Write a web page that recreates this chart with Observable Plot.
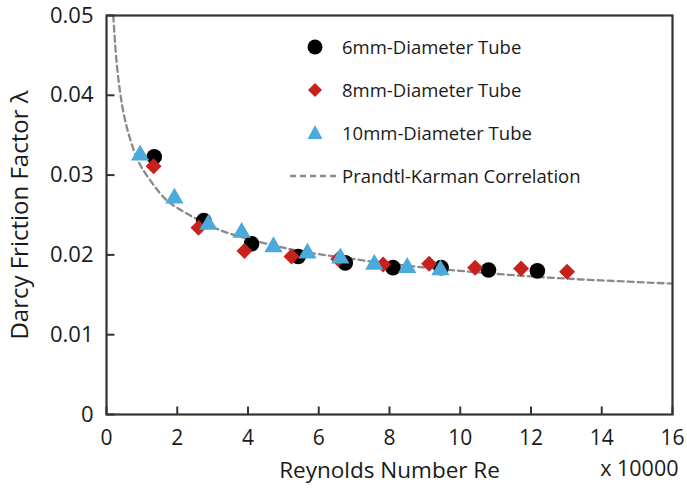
<!DOCTYPE html>
<html>
<head>
<meta charset="utf-8">
<script src="https://cdn.jsdelivr.net/npm/d3@7"></script>
<script src="https://cdn.jsdelivr.net/npm/@observablehq/plot@0.6"></script>
<style>
  html, body { margin: 0; padding: 0; background: #fff; }
  #wrap { position: relative; width: 687px; height: 489px; font-family: "Open Sans", sans-serif; }
  #legend { position: absolute; left: 290px; top: 25px; color: #1a1a1a; font-size: 18.5px; }
  #legend .row { display: flex; align-items: center; height: 43px; }
  #legend svg { width: 50px; height: 28px; margin-right: 2px; }
</style>
</head>
<body>
<div id="wrap"></div>
<script>
// Reynolds number (x 10000) and Darcy friction factor
const re6 = [1.35, 2.75, 4.1, 5.42, 6.75, 8.1, 9.46, 10.8, 12.18];
const f6  = [0.0323, 0.0243, 0.0214, 0.0198, 0.0190, 0.0184, 0.0184, 0.0181, 0.0180];
const re8 = [1.33, 2.6, 3.9, 5.23, 6.55, 7.82, 9.12, 10.42, 11.72, 13.02];
const f8  = [0.0311, 0.0234, 0.0205, 0.0198, 0.0195, 0.0188, 0.0189, 0.0184, 0.0183, 0.0179];
const re10 = [0.95, 1.92, 2.88, 3.82, 4.72, 5.68, 6.61, 7.57, 8.5, 9.44];
const f10  = [0.0325, 0.0271, 0.0238, 0.0228, 0.0210, 0.0202, 0.0196, 0.0188, 0.0184, 0.0181];
// Prandtl-Karman correlation curve, sampled points
const reCurve = [0.18, 0.2, 0.3, 0.5, 0.75, 1, 1.5, 2, 3, 4, 5, 6, 8, 10, 12, 14, 16];
const fCurve  = [0.0512, 0.0494, 0.0435, 0.0374, 0.0334, 0.0309, 0.0278, 0.0259, 0.0235, 0.0220, 0.0209, 0.0201, 0.0189, 0.0180, 0.0173, 0.0168, 0.0164];
const xTicks = [0, 2, 4, 6, 8, 10, 12, 14, 16];
const yTicks = [0, 0.01, 0.02, 0.03, 0.04, 0.05];
const seriesNames = ["6mm-Diameter Tube", "8mm-Diameter Tube", "10mm-Diameter Tube", "Prandtl-Karman Correlation"];

const s6 = re6.map((x, i) => ({x, y: f6[i]}));
const s8 = re8.map((x, i) => ({x, y: f8[i]}));
const s10 = re10.map((x, i) => ({x, y: f10[i]}));
const curve = reCurve.map((x, i) => ({x, y: fCurve[i]}));

const cBlack = "#000000", cRed = "#c8211d", cBlue = "#4aaadc", cLine = "#8a8a8a";
const tickLen = 8;
// inward tick symbols (drawn as tiny strokes)
const upTick = { draw(ctx) { ctx.moveTo(0, 0); ctx.lineTo(0, -tickLen); } };
const rightTick = { draw(ctx) { ctx.moveTo(0, 0); ctx.lineTo(tickLen, 0); } };

const chart = Plot.plot({
  width: 687, height: 489,
  marginLeft: 106, marginRight: 15, marginTop: 15, marginBottom: 75,
  style: { fontFamily: "Open Sans, sans-serif", fontSize: "21px", color: "#1a1a1a", background: "#fff" },
  x: { domain: [0, 16] },
  y: { domain: [0, 0.05] },
  marks: [
    Plot.line(curve, { x: "x", y: "y", stroke: cLine, strokeWidth: 2.3, strokeDasharray: "6,4", curve: "natural", clip: true }),
    Plot.dot(s6, { x: "x", y: "y", symbol: "circle", r: 7.8, fill: cBlack }),
    Plot.dot(s8, { x: "x", y: "y", symbol: "diamond2", r: 7.2, fill: cRed }),
    Plot.dot(s10, { x: "x", y: "y", symbol: "triangle", r: 6.8, fill: cBlue }),
    Plot.dot(xTicks, { x: d => d, y: () => 0, symbol: upTick, stroke: "#333", strokeWidth: 2, fill: "none" }),
    Plot.dot(yTicks, { x: () => 0, y: d => d, symbol: rightTick, stroke: "#333", strokeWidth: 2, fill: "none" }),
    Plot.frame({ stroke: "#333", strokeWidth: 2.2 }),
    Plot.axisX({ ticks: xTicks, tickSize: 0, tickPadding: 16, tickFormat: d => String(d), fontSize: 21,
      label: null }),
    Plot.axisX({ ticks: [], tickSize: 0, fontSize: 22.5,
      label: "Reynolds Number Re", labelAnchor: "center", labelArrow: "none", labelOffset: 63 }),
    Plot.axisY({ ticks: yTicks, tickSize: 0, tickPadding: 13, tickFormat: d => d === 0 ? "0" : d3.format(".2f")(d), fontSize: 22,
      label: null }),
    Plot.axisY({ ticks: [], tickSize: 0, fontSize: 24,
      label: "Darcy Friction Factor \u03bb", labelAnchor: "center", labelArrow: "none", labelOffset: 96 }),
    Plot.text(["x 10000"], { frameAnchor: "bottom-right", dy: 61, dx: 6, textAnchor: "end", fontSize: 21.5, fill: "#1a1a1a" })
  ]
});

const wrap = document.getElementById("wrap");
wrap.appendChild(chart);

// legend overlay
const legend = document.createElement("div");
legend.id = "legend";
const sym = [
  `<svg viewBox="0 0 50 28"><circle cx="25" cy="14" r="7.5" fill="${cBlack}"/></svg>`,
  `<svg viewBox="0 0 50 28"><path d="M25,7 L32,14 L25,21 L18,14 Z" fill="${cRed}"/></svg>`,
  `<svg viewBox="0 0 50 28"><path d="M25,6 L32.5,20 L17.5,20 Z" fill="${cBlue}"/></svg>`,
  `<svg viewBox="0 0 50 28"><line x1="0" y1="14" x2="50" y2="14" stroke="${cLine}" stroke-width="2.3" stroke-dasharray="6,4"/></svg>`
];
seriesNames.forEach((name, i) => {
  const row = document.createElement("div");
  row.className = "row";
  row.innerHTML = sym[i] + `<span>${name}</span>`;
  legend.appendChild(row);
});
wrap.appendChild(legend);
</script>
</body>
</html>
